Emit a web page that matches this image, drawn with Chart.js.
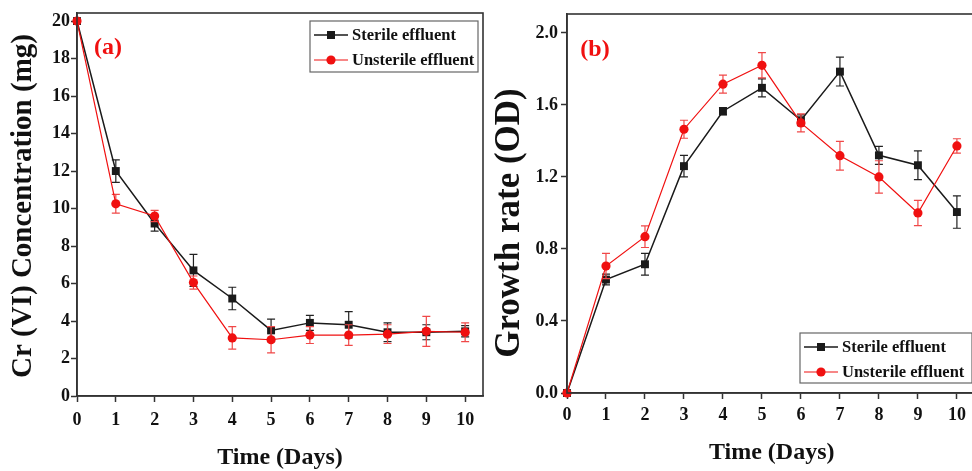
<!DOCTYPE html>
<html><head><meta charset="utf-8">
<script src="https://cdn.jsdelivr.net/npm/chart.js@4.4.1/dist/chart.umd.min.js"></script>
<style>
html,body{margin:0;padding:0;background:#fff;overflow:hidden;width:972px;height:471px;position:relative;}
#wa{position:absolute;left:0;top:0;width:490px;height:471px;}
#wb{position:absolute;left:490px;top:0;width:492px;height:471px;}
</style></head><body>
<div id="wa"><canvas id="ca" width="490" height="471"></canvas></div>
<div id="wb"><canvas id="cb" width="492" height="471"></canvas></div>
<script>
// ---- data ----
const days = [0,1,2,3,4,5,6,7,8,9,10];
const xTicks = [0,1,2,3,4,5,6,7,8,9,10];
const aTicks = [0,2,4,6,8,10,12,14,16,18,20];
const bTicks = [0,0.4,0.8,1.2,1.6,2.0];
const seriesNames = ['Sterile effluent','Unsterile effluent'];

const aSterile      = [20,12.0,9.2,6.7,5.2,3.5,3.9,3.8,3.4,3.4,3.45];
const aSterileErr   = [0,0.6,0.4,0.85,0.6,0.6,0.4,0.7,0.5,0.4,0.3];
const aUnsterile    = [20,10.25,9.6,6.05,3.1,3.0,3.25,3.25,3.3,3.45,3.4];
const aUnsterileErr = [0,0.5,0.3,0.35,0.6,0.7,0.45,0.55,0.5,0.8,0.5];

const bSterile      = [0,0.63,0.715,1.26,1.565,1.695,1.515,1.785,1.32,1.265,1.005];
const bSterileErr   = [0,0.03,0.06,0.06,0.02,0.05,0.03,0.08,0.05,0.08,0.09];
const bUnsterile    = [0,0.705,0.868,1.465,1.715,1.82,1.5,1.318,1.2,1.0,1.372];
const bUnsterileErr = [0,0.07,0.06,0.05,0.05,0.07,0.05,0.08,0.09,0.07,0.04];

// ---- styling ----
const SERIF = "'Liberation Serif','Times New Roman',serif";
const BLACK = '#1a1a1a';
const RED = '#f01010';
const AXIS = '#333';

const toPts = (xs, ys) => xs.map((x,i)=>({x:x, y:ys[i]}));

const errPlugin = {
  id:'errbars',
  beforeDatasetDraw(chart, args){
    const ds = chart.data.datasets[args.index];
    if(!ds.err) return;
    const ctx = chart.ctx, xs = chart.scales.x, ys = chart.scales.y;
    ctx.save();
    ctx.strokeStyle = ds.errColor; ctx.lineWidth = 1.2;
    ds.data.forEach((p,i)=>{
      const e = ds.err[i]; if(!e) return;
      const x = xs.getPixelForValue(p.x);
      const y1 = ys.getPixelForValue(p.y+e), y2 = ys.getPixelForValue(p.y-e);
      ctx.beginPath();
      ctx.moveTo(x,y1); ctx.lineTo(x,y2);
      ctx.moveTo(x-4,y1); ctx.lineTo(x+4,y1);
      ctx.moveTo(x-4,y2); ctx.lineTo(x+4,y2);
      ctx.stroke();
    });
    ctx.restore();
  }
};

const decoPlugin = {
  id:'deco',
  afterDraw(chart){
    const o = chart.options.plugins.deco;
    const ctx = chart.ctx, ca = chart.chartArea;
    ctx.save();
    // frame
    ctx.strokeStyle = AXIS; ctx.lineWidth = 1.6;
    ctx.strokeRect(ca.left, ca.top, ca.right-ca.left, ca.bottom-ca.top);
    // panel label
    ctx.fillStyle = RED;
    ctx.font = "bold 24px " + SERIF;
    ctx.textAlign = 'center'; ctx.textBaseline = 'middle';
    ctx.fillText(o.label, o.lx, o.ly);
    // y title
    ctx.save();
    ctx.translate(o.tx, o.ty); ctx.rotate(-Math.PI/2);
    ctx.fillStyle = '#111';
    ctx.font = "bold " + o.tsize + "px " + SERIF;
    ctx.fillText(o.ytitle, 0, 0);
    ctx.restore();
    // legend box
    ctx.font = "bold 16.5px " + SERIF;
    const bx = o.bx, by = o.by, bw = o.bw, bh = o.bh;
    ctx.fillStyle = '#fff';
    ctx.fillRect(bx,by,bw,bh);
    ctx.strokeStyle = '#666'; ctx.lineWidth = 1.2;
    ctx.strokeRect(bx,by,bw,bh);
    chart.data.datasets.forEach((ds,i)=>{
      const y = by + 14 + i*25;
      const x0 = bx + 4, x1 = bx + 38;
      ctx.strokeStyle = ds.borderColor; ctx.lineWidth = ds.borderWidth;
      ctx.beginPath(); ctx.moveTo(x0,y); ctx.lineTo(x1,y); ctx.stroke();
      ctx.fillStyle = ds.pointBackgroundColor;
      if(ds.pointStyle === 'rect'){ ctx.fillRect((x0+x1)/2-4, y-4, 8, 8); }
      else { ctx.beginPath(); ctx.arc((x0+x1)/2, y, 4.6, 0, Math.PI*2); ctx.fill(); }
      ctx.fillStyle = '#111'; ctx.textAlign = 'left'; ctx.textBaseline = 'middle';
      ctx.fillText(ds.label, bx + 42, y+1);
    });
    ctx.restore();
  }
};

function makeDatasets(xs, s1, e1, s2, e2){
  return [
    {label:seriesNames[0], data:toPts(xs,s1), err:e1, errColor:'#222',
     borderColor:BLACK, backgroundColor:BLACK, borderWidth:1.5,
     pointStyle:'rect', pointRadius:5.6, pointBackgroundColor:BLACK, pointBorderColor:BLACK, pointBorderWidth:0,
     clip:false, order:1, tension:0},
    {label:seriesNames[1], data:toPts(xs,s2), err:e2, errColor:'#f04848',
     borderColor:RED, backgroundColor:RED, borderWidth:1.2,
     pointStyle:'circle', pointRadius:4.6, pointBackgroundColor:RED, pointBorderColor:RED, pointBorderWidth:0,
     clip:false, order:0, tension:0}
  ];
}

function axisCommon(){
  return {
    ticks:{font:{family:SERIF, weight:'bold', size:18}, color:'#111', autoSkip:false, maxRotation:0},
    grid:{drawOnChartArea:false, tickLength:6, tickColor:AXIS, tickWidth:1.5},
    border:{color:AXIS, width:1.6}
  };
}

function makeChart(id, cfg){
  const xa = axisCommon(), ya = axisCommon();
  Object.assign(xa, {type:'linear', min:0, max:cfg.xmax,
    afterBuildTicks:s=>{ s.ticks = xTicks.map(v=>({value:v})); },
    afterFit:s=>{ s.height = cfg.xh; },
    title:{display:true, text:'Time (Days)', color:'#111',
      font:{family:SERIF, weight:'bold', size:24, lineHeight:1}, padding:{top:0,bottom:cfg.xtpad}}
  });
  xa.ticks.padding = cfg.xpad;
  Object.assign(ya, {type:'linear', min:0, max:cfg.ymax,
    afterBuildTicks:s=>{ s.ticks = cfg.yticks.map(v=>({value:v})); },
    afterFit:s=>{ s.width = 77; }
  });
  ya.ticks.padding = cfg.ypad;
  ya.ticks.callback = cfg.yfmt;
  return new Chart(document.getElementById(id), {
    type:'line',
    data:{datasets:cfg.datasets},
    options:{
      responsive:false, animation:false, devicePixelRatio:1,
      layout:{padding:cfg.padding},
      plugins:{legend:{display:false}, tooltip:{enabled:false}, deco:cfg.deco},
      scales:{x:xa, y:ya}
    },
    plugins:[errPlugin, decoPlugin]
  });
}

makeChart('ca', {
  datasets: makeDatasets(days, aSterile, aSterileErr, aUnsterile, aUnsterileErr),
  xmax:10.46, ymax:20.43, yticks:aTicks, yfmt:v=>String(v),
  xh:75, xpad:8, xtpad:1, ypad:1,
  padding:{top:13, right:7, left:0, bottom:0},
  deco:{label:'(a)', lx:108, ly:48, ytitle:'Cr (VI) Concentration (mg)', tx:24, ty:206, tsize:29,
        bx:310, by:21, bw:168, bh:51}
});

makeChart('cb', {
  datasets: makeDatasets(days, bSterile, bSterileErr, bUnsterile, bUnsterileErr),
  xmax:10.5, ymax:2.105, yticks:bTicks, yfmt:v=>v.toFixed(1),
  xh:78, xpad:6, xtpad:6, ypad:3,
  padding:{top:14, right:2, left:0, bottom:0},
  deco:{label:'(b)', lx:105, ly:50, ytitle:'Growth rate (OD)', tx:20, ty:223, tsize:35,
        bx:310, by:333, bw:172, bh:50}
});
</script>
</body></html>
